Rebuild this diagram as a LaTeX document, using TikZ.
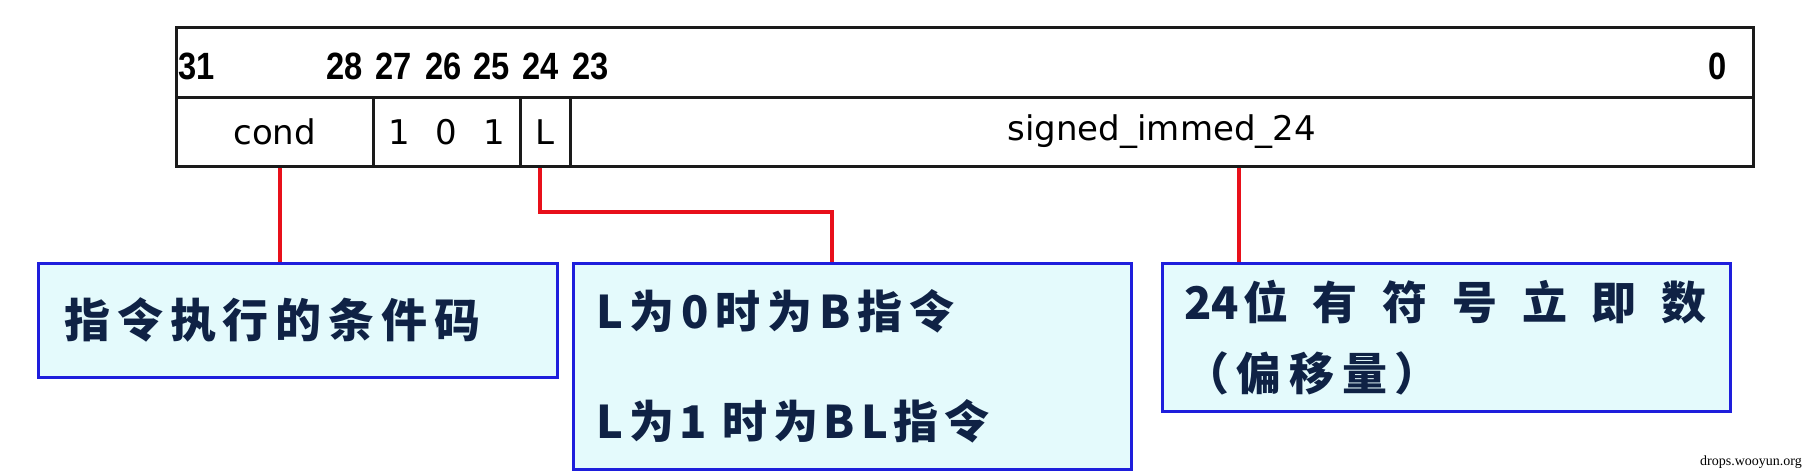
\documentclass[tikz,border=0pt]{standalone}
\usepackage{fontspec}
\setmainfont{DejaVu Sans}
\newfontfamily\cjk{Noto Sans CJK SC}
\newfontfamily\bitfont{Liberation Sans}
\newfontfamily\fieldfont{DejaVu Sans}
\newfontfamily\credfont{Liberation Serif}
\definecolor{linec}{HTML}{1A1A1A}
\definecolor{redc}{HTML}{E8101A}
\definecolor{boxc}{HTML}{1E1EDC}
\definecolor{fillc}{HTML}{E4FAFC}
\definecolor{txtc}{HTML}{0F2245}
\tikzset{
  cell/.style={draw=linec, line width=2.5pt, minimum height=69pt, inner sep=0pt,
    anchor=north west, font=\fieldfont\fontsize{34}{40}\selectfont},
  bitlbl/.style={font=\bitfont\bfseries\fontsize{38}{40}\selectfont, inner sep=0pt},
  redline/.style={draw=redc, line width=3.5pt},
  infobox/.style={draw=boxc, fill=fillc, line width=2.5pt, anchor=north west,
    align=left, text=txtc, inner ysep=0pt},
}
\begin{document}
\begin{tikzpicture}[x=1pt,y=-1pt]
\useasboundingbox (0,0) rectangle (1806,472);
% header box
\node[draw=linec, line width=2.5pt, minimum width=1577pt, minimum height=70pt, inner sep=0pt, anchor=north west] (hdr) at (175,26) {};
\node[cell, minimum width=197pt] (cond) at (175,96) {cond};
\node[cell, minimum width=147pt] (ones) at (372,96) {1\hspace{26pt}0\hspace{26pt}1};
\node[cell, minimum width=50pt] (Lc) at (519,96) {L};
\node[cell, minimum width=1183pt] (imm) at (569,96) {signed\_immed\_24};
% bit numbers
\node[bitlbl, anchor=base west] (b31) at (178,79) {\scalebox{0.86}[1]{31}};
\node[bitlbl, anchor=base west] (b28) at (326,79) {\scalebox{0.86}[1]{28}};
\node[bitlbl, anchor=base west] (b27) at (375,79) {\scalebox{0.86}[1]{27}};
\node[bitlbl, anchor=base west] (b26) at (425,79) {\scalebox{0.86}[1]{26}};
\node[bitlbl, anchor=base west] (b25) at (473,79) {\scalebox{0.86}[1]{25}};
\node[bitlbl, anchor=base west] (b24) at (522,79) {\scalebox{0.86}[1]{24}};
\node[bitlbl, anchor=base west] (b23) at (572,79) {\scalebox{0.86}[1]{23}};
\node[bitlbl, anchor=base east] (b0) at (1727,79) {\scalebox{0.86}[1]{0}};
% info boxes
\node[infobox, minimum width=519pt, minimum height=114pt, inner xsep=26pt, text width=467pt,
  font=\cjk\bfseries\fontsize{46}{56}\selectfont] (box1) at (37,262)
  {\mbox{\addfontfeature{LetterSpace=15}指令执行的条件码}};
\node[infobox, minimum width=558pt, minimum height=206pt, inner xsep=23pt, text width=512pt,
  font=\cjk\bfseries\fontsize{45}{110}\selectfont] (box2) at (572,262)
  {\mbox{\addfontfeature{LetterSpace=15}L为0时为B指令}\\ \mbox{\addfontfeature{LetterSpace=13}L为1 时为BL指令}};
\node[infobox, minimum width=568pt, minimum height=148pt, inner xsep=22pt, text width=524pt,
  font=\cjk\bfseries\fontsize{45}{69}\selectfont] (box3) at (1161,262)
  {\mbox{24\hspace{4pt}{\addfontfeature{LetterSpace=55}位有符号立即数}}\\[2pt] \mbox{\addfontfeature{LetterSpace=17}（偏移量）}};
% connectors
\coordinate (c1) at (280,0);
\coordinate (j1) at (540,212);
\coordinate (j2) at (832,212);
\coordinate (c3) at (1239,0);
\draw[redline] (cond.south -| c1) -- (box1.north -| c1);
\draw[redline] (Lc.south -| j1) -- (j1) -- (j2) -- (box2.north -| j2);
\draw[redline] (imm.south -| c3) -- (box3.north -| c3);
% credit
\node[font=\credfont\fontsize{14}{16}\selectfont, anchor=east, inner sep=0pt] (cred) at (1802,462) {drops.wooyun.org};
\end{tikzpicture}
\end{document}
